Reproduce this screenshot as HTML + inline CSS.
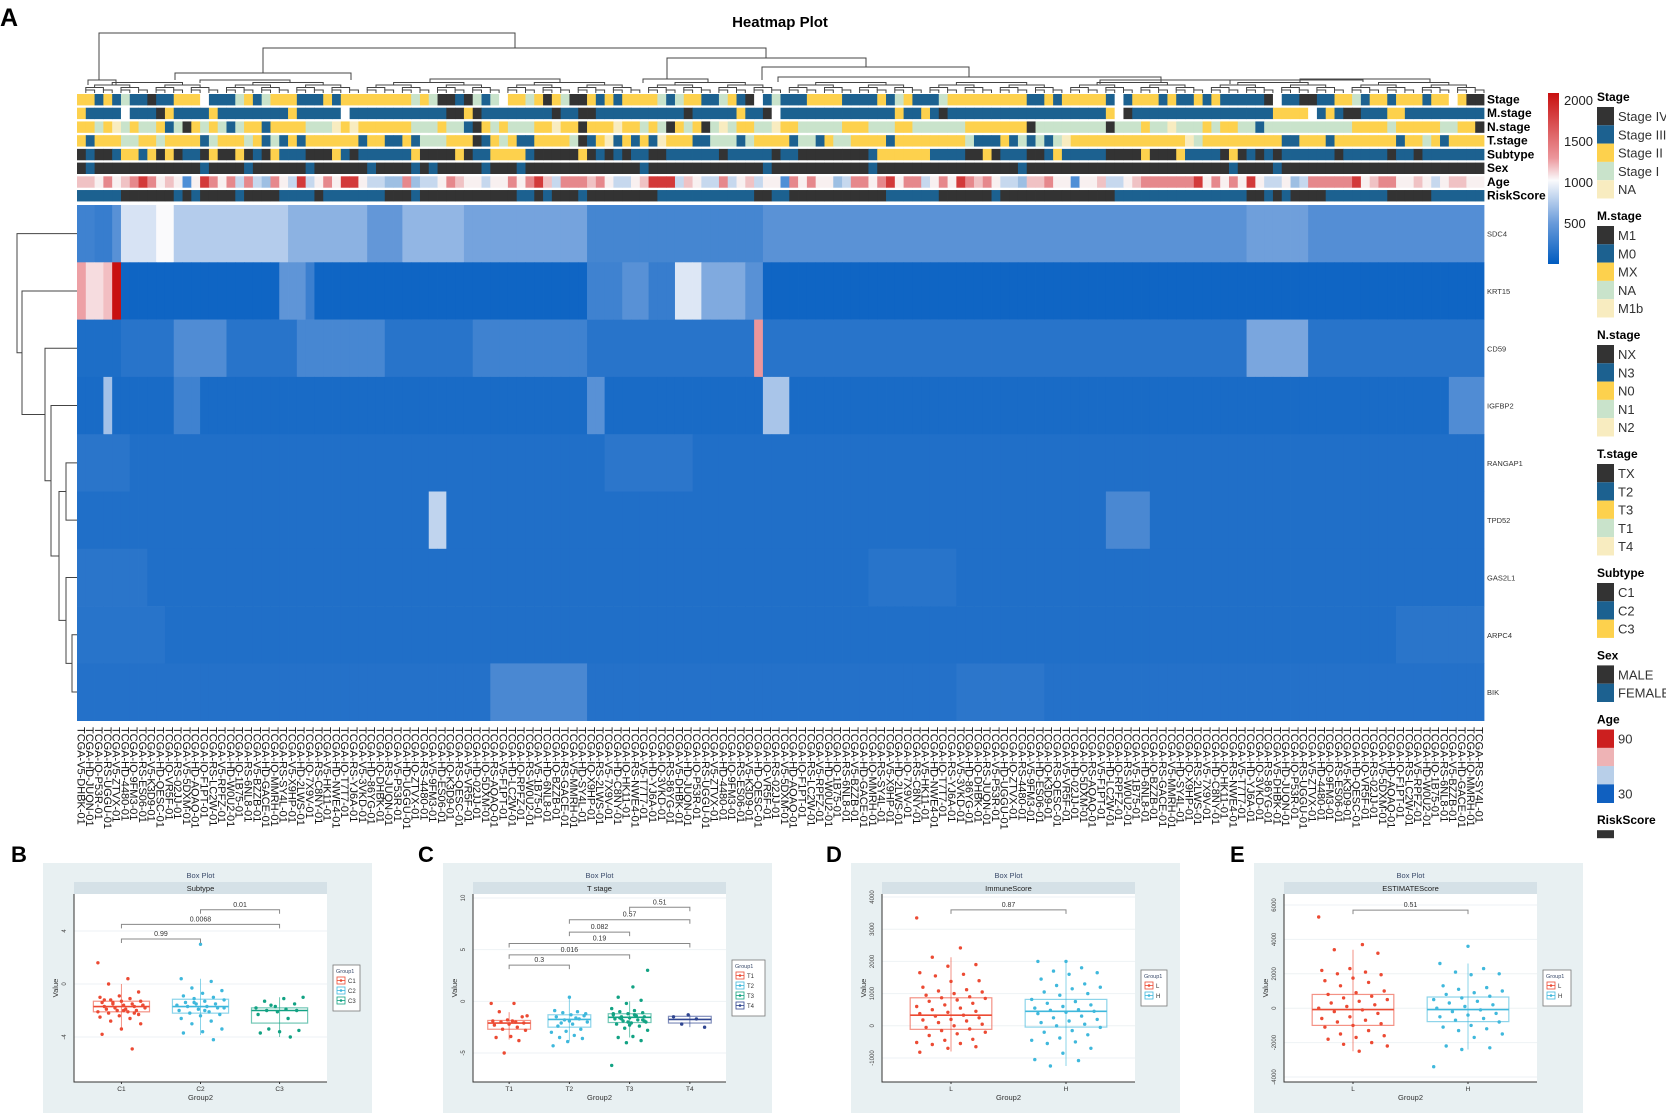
<!DOCTYPE html>
<html><head><meta charset="utf-8"><title>Heatmap Plot</title>
<style>
html,body{margin:0;padding:0;background:#fff;}
svg{display:block;font-family:"Liberation Sans",Arial,sans-serif;}
</style></head>
<body>
<svg id="fig" width="1666" height="1113" viewBox="0 0 1666 1113" xmlns="http://www.w3.org/2000/svg">
<rect x="0" y="0" width="1666" height="1113" fill="#ffffff"/>
<text x="0" y="26" font-size="25" font-weight="bold">A</text>
<text x="780" y="27" font-size="15" font-weight="bold" text-anchor="middle">Heatmap Plot</text>
<text x="11" y="862" font-size="22" font-weight="bold">B</text>
<text x="418" y="862" font-size="22" font-weight="bold">C</text>
<text x="826" y="862" font-size="22" font-weight="bold">D</text>
<text x="1230" y="862" font-size="22" font-weight="bold">E</text>
</svg>
<script>
// ---------------- HEATMAP DATA ----------------
const NCOL = 160;
const genes = ['SDC4','KRT15','CD59','IGFBP2','RANGAP1','TPD52','GAS2L1','ARPC4','BIK'];
const geneBase = [420, 70, 190, 120, 150, 150, 150, 150, 170];
// segments: [fromCol, toCol(exclusive), value]
const segSDC4 = [[0,2,300],[2,4,260],[4,5,420],[5,9,880],[9,11,1000],[11,24,760],[24,33,620],[33,37,470],[37,44,640],[44,58,540],[58,78,330],[78,133,430],[133,140,520],[140,160,400]];
const segKRT15 = [[0,1,1450],[1,3,1150],[3,4,1300],[4,5,2000],[23,26,450],[26,27,280],[58,62,300],[62,65,420],[65,68,260],[68,71,900],[71,76,580],[76,78,420]];
const segCD59 = [[0,5,140],[11,17,380],[25,35,340],[45,58,300],[77,78,1500],[133,140,560]];
const segIGFBP2 = [[3,4,700],[11,14,300],[58,60,420],[78,81,720],[156,160,380]];
const segRANGAP1 = [[0,6,200],[60,70,210]];
const segTPD52 = [[40,42,800],[117,122,350]];
const segGAS2L1 = [[0,8,200],[90,100,190]];
const segARPC4 = [[0,10,190],[150,160,200]];
const segBIK = [[47,58,350],[100,110,210]];
const geneSegs = [segSDC4, segKRT15, segCD59, segIGFBP2, segRANGAP1, segTPD52, segGAS2L1, segARPC4, segBIK];

// annotation tracks (K=dark, B=blue, Y=yellow, G=green, C=cream, W=blank)
const annNames = ['Stage','M.stage','N.stage','T.stage','Subtype','Sex','Age','RiskScore'];
const annStage = "YYBYBGBBKBBYYYWBBBGYBGYYYBBBYBYYYYYYYYGYGKKBKGBGWYYGYKYGKKY" + "BYBYYYYGBGYYBBGYBKWBGBBBYYYYBBBBYBGYBBBGYYYYYYYYYBBYBYYYYYBWBYYYBYBBYBYBBBBBKWBBKKBBYYGBYYBYYYBYYWYKKYBYYYYY";
const annM = "YBBBBWBBBKYBBBBYBBBBBBBBYBBBBBWBBBBBBBBBBBKKYKBBBBBBBBKBBKKB" + "BBBBBBBBBKBBBBBYBBKWBBBBBBBBBBBBBYBBYBKBBBBBBBBBBBBBBBBBBYWKBBBBBBBBBBBBBBBBYYYYWBYBKKBBBYYBBBBBBBBBBBBBKBBBBBBBB";
const annN = "YYGYCGYGGYBGKYGYGBGYYBYYYYGGGCYCYYYYYYGGGYGGBKYGYGGGYYCYYKY" + "YYCYYGYGKYGYKGCGYYGGCYYGGGGGYYYGGGYYGGGGGGYYYYYYYKGGGGGGGGKGGGYGGCGGGYGYYGGBGGGGGGGGGGYYYYGYYYYYGGYYKGKGGYCYKGY";
const annT = "YBYYYGGYYGYYYYBGYYYGYBGBYBYYYYYYBYYBBYBGGGYYYKBYGYBBYYYYGKBY" + "CBYBYBCYYYBBGGGBGYYYYBGGBYGGYYYYBYYYYYYYYGBBBYBGBGBGCYYYYYYYYYYYYYCGYYYYYYYYYBBYYYBYYYYYYYBYYGYBYYYYYYYYBBYY";
const annSub = "KBKKBYYBYKYKBBKYKKYKBKYBBBKKKYBKBBBBBBYKKKKYKBBYYYYBKKKKKYKB" + "KBKBBKKBBBBBBKBBBBBKBBKKKKKKKKBYYYYYYBBBBKKYKBBBKKBYBBBBBKKKKYKKKYBBBBKYKBKBKBBBBBBKBBBBBKBBKBBBBBB";
const annSex = "KBKKKKKKKKKKKKBKKKKBKKKKKKBKKKKKKBKKKKBKBKKKKKBKKKBKKKKKKKKK" + "KKKKBKKKKKKKKKKKKKBKKKKKKKKKKKBKKKKKKKKKKKKKKKKBKKKKKKKKKKKKKKKKKKKKKKKBKKKKBKKKKKKKKKKKKKKKKKKKKKKKBKB";
const annAge = "llwpwlprpwlwbwrpwpspsmpwsrswpwrrwssmmpmsswplwwswwpwprlsppplpw" + "sswlrrrslwsspswlswwbpwpwwmsppwprwppswpwrplpwssmllpwwbwwlsswlpppppprwpwpwrwsswmsppppprwlppwwlwswllwwwssmrpl";
const annRisk = "BBBBBKKKKKKBKBKKKKBKKKKBBBBKBBBBBBBKKKBKKKKKKKKKKKBBKBKKKBKK" + "KKKKKKBBBBBBBBBBBKKBBKKKKKKKKKKKBBBBBBKKKKKKBKKKKKKKKKKKKKBBBBBBBBBBBBBBBKKBKBKKKKBBBBBBBKKKKKBBBBBBBBBBBB";
const annTracks = [annStage, annM, annN, annT, annSub, annSex, annAge, annRisk];

// colour bar ticks
const cbTicks = [2000, 1500, 1000, 500];

// legends
const legTitles = ['Stage','M.stage','N.stage','T.stage','Subtype','Sex'];
const legStage = ['Stage IV','Stage III','Stage II','Stage I','NA'];
const legM = ['M1','M0','MX','NA','M1b'];
const legN = ['NX','N3','N0','N1','N2'];
const legT = ['TX','T2','T3','T1','T4'];
const legSub = ['C1','C2','C3'];
const legSex = ['MALE','FEMALE'];
const legItems = [legStage, legM, legN, legT, legSub, legSex];
const legColors = ['#333333','#1c6190','#fdd14d','#c9e3cb','#f8ecc0'];

// ---------------- BOX PLOT DATA ----------------
const bCats = ['C1','C2','C3'];
const bQ1 = [-2.1,-2.2,-2.95], bMed = [-1.7,-1.7,-2.0], bQ3 = [-1.3,-1.15,-1.8], bLo = [-3.4,-3.85,-4.0], bHi = [0.0,0.4,-1.0];
const bPtsC1 = [1.6,0.4,0.0,-0.6,-0.9,-1.0,-1.1,-1.2,-1.3,-1.3,-1.4,-1.5,-1.5,-1.6,-1.6,-1.7,-1.7,-1.8,-1.8,-1.9,-1.9,-2.0,-2.0,-2.1,-2.1,-2.2,-2.3,-2.4,-2.5,-2.6,-2.8,-3.0,-3.4,-3.8,-4.9,-1.4,-1.6,-2.0,-1.2,-2.2];
const bPtsC2 = [3.0,0.4,0.2,-0.3,-0.5,-0.7,-0.9,-1.0,-1.1,-1.2,-1.3,-1.4,-1.5,-1.5,-1.6,-1.7,-1.7,-1.8,-1.9,-2.0,-2.1,-2.2,-2.3,-2.4,-2.6,-2.8,-3.0,-3.4,-3.6,-3.7,-4.2,-1.4,-1.8,-2.0];
const bPtsC3 = [-1.0,-1.1,-1.3,-1.5,-1.7,-1.8,-1.9,-2.0,-2.0,-2.1,-2.3,-2.6,-3.4,-3.5,-3.6,-3.7,-4.0,-1.6];
const bPts = [bPtsC1,bPtsC2,bPtsC3];
const bTicks = [4,0,-4];
const bBrackets = [[0,1,'0.99',3.4],[0,2,'0.0068',4.5],[1,2,'0.01',5.6]];

const cCats = ['T1','T2','T3','T4'];
const cQ1 = [-2.7,-2.5,-2.05,-2.1], cMed = [-2.1,-1.75,-1.55,-1.75], cQ3 = [-1.85,-1.3,-1.2,-1.45], cLo = [-3.7,-3.85,-3.5,-2.5], cHi = [-1.05,0.4,0.0,-1.3];
const cPtsT1 = [-0.2,-0.2,-1.0,-1.5,-1.8,-1.9,-2.0,-2.0,-2.1,-2.2,-2.3,-2.5,-2.7,-2.8,-3.4,-3.5,-3.8,-5.0,-1.4,-1.9];
const cPtsT2 = [0.4,-0.9,-1.0,-1.1,-1.2,-1.3,-1.5,-1.7,-1.8,-2.0,-2.2,-2.4,-2.7,-2.9,-3.0,-3.3,-3.5,-3.6,-3.9,-4.3,-1.6,-2.1,-1.4,-1.9];
const cPtsT3 = [3.0,1.4,0.4,0.1,-0.2,-0.7,-0.9,-1.0,-1.1,-1.2,-1.3,-1.4,-1.5,-1.5,-1.6,-1.7,-1.8,-1.9,-2.0,-2.1,-2.2,-2.4,-2.6,-2.8,-3.4,-3.5,-3.8,-4.0,-6.2,-1.3,-1.6,-1.8,-2.0,-1.2,-1.4,-1.7,-1.9,-2.3];
const cPtsT4 = [-1.3,-1.5,-1.7,-2.2,-2.5];
const cPts = [cPtsT1,cPtsT2,cPtsT3,cPtsT4];
const cTicks = [10,5,0,-5];
const cBrackets = [[2,3,'0.51',9.1],[1,3,'0.57',7.9],[1,2,'0.082',6.7],[0,3,'0.19',5.6],[0,2,'0.016',4.5],[0,1,'0.3',3.5]];

const dCats = ['L','H'];
const dQ1 = [-110,-40], dMed = [330,450], dQ3 = [870,820], dLo = [-800,-1250], dHi = [2130,2000];
const dPtsL = [3350,2420,2130,1900,1850,1650,1600,1550,1400,1380,1200,1120,1080,1050,1000,950,900,870,850,800,760,700,650,600,550,500,450,420,380,330,300,250,200,180,150,100,50,0,-50,-100,-150,-200,-250,-300,-420,-450,-520,-550,-580,-650,-700,-820];
const dPtsH = [2000,2000,1800,1700,1650,1600,1450,1300,1250,1200,1150,1050,1000,950,820,750,700,650,600,550,500,480,450,420,380,300,250,200,150,100,50,0,-50,-150,-200,-280,-380,-450,-500,-550,-700,-850,-1050,-1080,-1250];
const dPts = [dPtsL,dPtsH];
const dTicks = [4000,3000,2000,1000,0,-1000];
const dBrackets = [[0,1,'0.87',3600]];

const eCats = ['L','H'];
const eQ1 = [-1000,-780], eMed = [-80,-80], eQ3 = [800,650], eLo = [-2500,-2400], eHi = [3400,2600];
const ePtsL = [5300,3700,3400,3200,2300,2200,2100,2000,1950,1750,1600,1500,1300,1000,900,800,700,600,500,400,300,200,100,0,-100,-200,-300,-500,-600,-700,-800,-900,-1000,-1100,-1300,-1500,-1600,-1700,-1800,-2000,-2100,-2200,-2500];
const ePtsH = [3600,2600,2300,2100,2000,1950,1300,1200,1100,1000,900,800,700,600,500,400,300,200,100,0,-100,-200,-300,-400,-500,-600,-700,-800,-1000,-1100,-1200,-1300,-1500,-1700,-2200,-2300,-2400,-3400];
const ePts = [ePtsL,ePtsH];
const eTicks = [6000,4000,2000,0,-2000,-4000];
const eBrackets = [[0,1,'0.51',5700]];

// ---------------- DRAWING ----------------
const NS = 'http://www.w3.org/2000/svg';
const svg = document.getElementById('fig');
function mk(tag, attrs, parent){
  const e = document.createElementNS(NS, tag);
  for (const k in attrs) e.setAttribute(k, attrs[k]);
  (parent || svg).appendChild(e);
  return e;
}
function txt(x,y,s,size,extra,parent){
  const t = mk('text', Object.assign({x:x,y:y,'font-size':size}, extra||{}), parent);
  t.textContent = s;
  return t;
}
// colour scale
const stops = [[0,[0,92,192]],[500,[105,155,218]],[1000,[250,250,252]],[1500,[236,150,155]],[2000,[200,16,16]]];
function heatColor(v){
  if (v <= stops[0][0]) return 'rgb('+stops[0][1].join(',')+')';
  for (let i=1;i<stops.length;i++){
    if (v <= stops[i][0]){
      const a = stops[i-1], b = stops[i], t = (v-a[0])/(b[0]-a[0]);
      const c = a[1].map((x,j)=>Math.round(x+(b[1][j]-x)*t));
      return 'rgb('+c.join(',')+')';
    }
  }
  return 'rgb('+stops[stops.length-1][1].join(',')+')';
}
const HX0 = 77, HX1 = 1484, CW = (HX1-HX0)/NCOL;
const HY0 = 205, RH = 57.3;
const colX = c => HX0 + c*CW;
const rowY = r => HY0 + r*RH;

// heatmap body
const gHeat = mk('g', {});


genes.forEach((g, r) => {
  const vals = new Array(NCOL).fill(geneBase[r]);
  geneSegs[r].forEach(s => { for (let c=s[0]; c<Math.min(s[1],NCOL); c++) vals[c] = s[2]; });
  vals.forEach((v, c) => {
    const cell = mk('rect', {x:colX(c).toFixed(2), y:rowY(r).toFixed(2), width:(CW+0.4).toFixed(2), height:(RH+0.3).toFixed(2), fill:heatColor(v)}, gHeat);
    
    
  });
  const lab = txt(1487, rowY(r)+RH/2+3, g, 7.5, {fill:'#333'});
  
  
});

// annotation tracks
const catColor = {K:'#333333', B:'#1c6190', Y:'#fdd14d', G:'#c9e3cb', C:'#f8ecc0', W:'#ffffff',
  r:'#d33a3a', p:'#e6888c', l:'#f0c2c4', w:'#f8f0f0', s:'#c6d8ee', m:'#9dbfe3', b:'#4f8fd6'};
const gAnn = mk('g', {});


annTracks.forEach((s, k) => {
  const y = 94 + k*13.72;
  for (let c=0; c<NCOL; c++){
    const ch = s[Math.min(c, s.length-1)];
    const cell = mk('rect', {x:colX(c).toFixed(2), y:y.toFixed(2), width:(CW+0.4).toFixed(2), height:11.4, fill:catColor[ch]||'#1c6190'}, gAnn);
    
    
  }
  const lab = txt(1487, y+9.5, annNames[k], 12, {'font-weight':'bold'});
  
  
});

// column dendrogram
const gDen = mk('g', {stroke:'#444', 'stroke-width':1, fill:'none'});


const leafY = 93;
const levelH = [90, 87.5, 85, 82.5];
for (let L=1; L<=4; L++){
  const size = 1<<L, half = size/2;
  for (let s=0; s+size<=NCOL; s+=size){
    const xl = colX(s + half/2) + (half===1?CW/2:0), xr = colX(s+half+half/2) + (half===1?CW/2:0);
    const yc = levelH[L-1], yb = L===1 ? leafY : levelH[L-2];
    const p = mk('path', {d:`M${xl.toFixed(1)},${yb} V${yc} H${xr.toFixed(1)} V${yb}`}, gDen);
    
    
  }
}
// major merges: [xLeft, xRight, y, dropLeftTo, dropRightTo]
const bigMerges = [[99,515,33,80,48],[88,116,80,85,85],[263,766,48,73,58],[175,351,73,80,80],[667,866,58,79,67],[643,708,79,83,83],[762,969,67,80,77],[778,1161,77,82,80],[1100,1230,80,84,84],[1300,1430,79,83,83],[1161,1363,80,82,82],[430,560,79,83,83],[200,290,80,83,83]];
bigMerges.forEach(m => {
  const p = mk('path', {d:`M${m[0]},${m[3]} V${m[2]} H${m[1]} V${m[4]}`}, gDen);
  
  
});

// row dendrogram
const gRD = mk('g', {stroke:'#444', 'stroke-width':1, fill:'none'});


const rc = r => rowY(r) + RH/2;
const rowNodes = [];
function rnode(x, y1, x1a, y2, x2a){ // vertical at x from y1 to y2, horizontals to children
  const p = mk('path', {d:`M${x1a},${y1} H${x} V${y2} H${x2a}`}, gRD);
  
  
}
const yH = (rc(7)+rc(8))/2;
rnode(72, rc(7), 77, rc(8), 77);
const yG = (rc(6)+yH)/2;
rnode(66, rc(6), 77, yH, 72);
const yE = (rc(4)+rc(5))/2;
rnode(66, rc(4), 77, rc(5), 77);
const yF = (yE+yG)/2;
rnode(59, yE, 66, yG, 66);
const yC = (rc(3)+yF)/2;
rnode(51, rc(3), 77, yF, 59);
const yB = (rc(2)+yC)/2;
rnode(45, rc(2), 77, yC, 51);
const yA = (rc(1)+yB)/2;
rnode(22, rc(1), 77, yB, 45);
rnode(17, rc(0), 77, yA, 22);

// column labels
const idA = ['V5','A5','CR','BA','CV','CQ','D6','HD','P3','QK','UF','CN','DQ','H7','IQ','T2','TN','KU','C9','F7','HL','RS','BB','MT','P5','4P','CX','UP'];
const idB = 'ABCDEFGHJKLMNPQRSTUVWXYZ0123456789';
const gCL = mk('g', {});


for (let c=0; c<NCOL; c++){
  const code = idA[(c*7)%idA.length] + '-' + idB[(c*5+3)%34] + idB[(c*11+7)%34] + idB[(c*13+1)%34] + idB[(c*3+9)%34];
  const x = colX(c) + CW/2 - 4;
  const t = txt(x, 727, 'TCGA-' + code + '-01', 11, {transform:`rotate(90 ${x.toFixed(1)} 727)`, fill:'#111'}, gCL);
  
  
}

// colour bar
const defs = mk('defs', {});
const lg = mk('linearGradient', {id:'cbgrad', x1:0, y1:0, x2:0, y2:1}, defs);
[[0,'#c81010'],[0.38,'#ec969b'],[0.51,'#fafafc'],[0.76,'#699bda'],[1,'#005cc0']].forEach(s => mk('stop', {offset:s[0], 'stop-color':s[1]}, lg));
const cb = mk('rect', {x:1548, y:93, width:11, height:171, fill:'url(#cbgrad)'});


const cbY = v => 264 - v*(171/2085);
cbTicks.forEach(v => {
  const t = txt(1564, cbY(v)+5, String(v), 13, {fill:'#222'});
  
  
});

// categorical legends
let ly = 97;
legTitles.forEach((ttl, i) => {
  const t = txt(1597, ly+4, ttl, 12, {'font-weight':'bold'});
  
  
  legItems[i].forEach((lab, j) => {
    const y = ly + 10 + j*18.3;
    const key = mk('rect', {x:1597, y:y.toFixed(1), width:17, height:18.3, fill:legColors[j]});
    
    
    const lt = txt(1618, y+14, lab, 13, {fill:'#333'});
    
    
  });
  ly += 10 + legItems[i].length*18.3 + 17.5;
});
// Age legend
const ageT = txt(1597, ly+4, 'Age', 12, {'font-weight':'bold'});


['#cc1f1f','#eeb3b5','#b8cfe9','#1060c0'].forEach((c, j) => {
  const k = mk('rect', {x:1597, y:(ly+10+j*18.3).toFixed(1), width:17, height:18.6, fill:c});
  
  
});
const a90 = txt(1618, ly+24, '90', 13, {fill:'#333'});


const a30 = txt(1618, ly+79, '30', 13, {fill:'#333'});


ly += 10 + 4*18.3 + 17.5;
const rsT = txt(1597, ly+4, 'RiskScore', 12, {'font-weight':'bold'});


const rsK = mk('rect', {x:1597, y:ly+10, width:17, height:8, fill:'#333333'});



// ---------------- BOX PANELS ----------------
function boxPanel(cfg){
  const g = mk('g', {});
  
  
  const px = cfg.px, py = 863, pw = 329, ph = 250;
  mk('rect', {x:px, y:py, width:pw, height:ph, fill:'#e8f0f2'}, g);
  const L = cfg.l, R = L + 253, T = 894, B = 1082;
  const tt = txt(L+126.5, 878, 'Box Plot', 7.5, {'text-anchor':'middle', fill:'#3a4a6a'}, g);
  
  
  mk('rect', {x:L, y:882, width:253, height:12, fill:'#d5e1e7'}, g);
  const st = txt(L+126.5, 891, cfg.strip, 7.5, {'text-anchor':'middle', fill:'#222'}, g);
  
  
  mk('rect', {x:L, y:T, width:253, height:B-T, fill:'#ffffff'}, g);
  const ys = v => cfg.y0 + (v - cfg.v0) * (cfg.y1 - cfg.y0) / (cfg.v1 - cfg.v0);
  cfg.ticks.forEach(v => {
    const y = ys(v);
    mk('line', {x1:L, x2:R, y1:y, y2:y, stroke:'#eef2f4', 'stroke-width':1}, g);
    const tl = txt(L-8, y, String(v), 6, {'text-anchor':'middle', transform:`rotate(-90 ${L-8} ${y})`, fill:'#444'}, g);
    
    
  });
  mk('path', {d:`M${L},${T} V${B} H${R}`, stroke:'#333', fill:'none', 'stroke-width':1}, g);
  const n = cfg.cats.length, step = 253/(n+0.2), bw = step*0.71;
  const xc = i => L + step*(0.6+i);
  cfg.cats.forEach((cat, i) => {
    const x = xc(i), col = cfg.colors[i];
    const wl = mk('line', {x1:x, x2:x, y1:ys(cfg.hi[i]), y2:ys(cfg.lo[i]), stroke:col, 'stroke-width':1, opacity:0.6}, g);
    
    
    const bx = mk('rect', {x:x-bw/2, y:ys(cfg.q3[i]), width:bw, height:ys(cfg.q1[i])-ys(cfg.q3[i]), fill:'none', stroke:col, 'stroke-width':1.2, opacity:0.6}, g);
    
    
    const md = mk('line', {x1:x-bw/2, x2:x+bw/2, y1:ys(cfg.med[i]), y2:ys(cfg.med[i]), stroke:col, 'stroke-width':1.6}, g);
    
    
    cfg.pts[i].forEach((v, k) => {
      const jit = (((k*37 + i*11) % 23) - 11) / 11 * bw * 0.42;
      const pt = mk('circle', {cx:(x+jit).toFixed(1), cy:ys(v).toFixed(1), r:1.7, fill:col}, g);
      
      
    });
    mk('line', {x1:x, x2:x, y1:B, y2:B+2, stroke:'#333'}, g);
    const xl = txt(x, B+9, cat, 6.5, {'text-anchor':'middle', fill:'#333'}, g);
    
    
  });
  cfg.br.forEach(b => {
    const y = ys(b[3]), x1 = xc(b[0]), x2 = xc(b[1]);
    const p = mk('path', {d:`M${x1},${y+4} V${y} H${x2} V${y+4}`, stroke:'#888', fill:'none', 'stroke-width':1}, g);
    
    
    const lt = txt((x1+x2)/2, y-3, b[2], 7, {'text-anchor':'middle', fill:'#333'}, g);
    
    
  });
  const xt = txt(L+126.5, 1100, 'Group2', 7.5, {'text-anchor':'middle', fill:'#333'}, g);
  
  
  const yt = txt(L-16, 988, 'Value', 7.5, {'text-anchor':'middle', transform:`rotate(-90 ${L-16} 988)`, fill:'#333'}, g);
  
  
  // legend
  const lh = 16 + n*10, ly0 = 988 - lh/2, lx = R + 6;
  mk('rect', {x:lx, y:ly0, width:cfg.lw, height:lh, fill:'#ffffff', stroke:'#777', 'stroke-width':0.8}, g);
  const lt = txt(lx+3, ly0+8, 'Group1', 5.5, {fill:'#3a4a6a'}, g);
  
  
  cfg.cats.forEach((cat, i) => {
    const y = ly0 + 12 + i*10;
    mk('rect', {x:lx+4, y:y, width:8, height:7, fill:'none', stroke:cfg.colors[i], 'stroke-width':0.8}, g);
    mk('line', {x1:lx+4, x2:lx+12, y1:y+3.5, y2:y+3.5, stroke:cfg.colors[i], 'stroke-width':0.8}, g);
    mk('circle', {cx:lx+8, cy:y+3.5, r:1.3, fill:cfg.colors[i]}, g);
    const et = txt(lx+15, y+6, cat, 6, {fill:'#333'}, g);
    
    
  });
}
const RED = '#ec4a33', CYAN = '#3fb8dc', TEAL = '#12a283', NAVY = '#2f4590';
boxPanel({name:'box-plot-subtype', px:43, l:74, strip:'Subtype', cats:bCats, q1:bQ1, med:bMed, q3:bQ3, lo:bLo, hi:bHi, pts:bPts, ticks:bTicks, br:bBrackets, v0:4, y0:931, v1:-4, y1:1037, colors:[RED,CYAN,TEAL], lw:27});
boxPanel({name:'box-plot-t-stage', px:443, l:473, strip:'T stage', cats:cCats, q1:cQ1, med:cMed, q3:cQ3, lo:cLo, hi:cHi, pts:cPts, ticks:cTicks, br:cBrackets, v0:10, y0:898, v1:-5, y1:1053, colors:[RED,CYAN,TEAL,NAVY], lw:33});
boxPanel({name:'box-plot-immunescore', px:851, l:882, strip:'ImmuneScore', cats:dCats, q1:dQ1, med:dMed, q3:dQ3, lo:dLo, hi:dHi, pts:dPts, ticks:dTicks, br:dBrackets, v0:4000, y0:897, v1:-1000, y1:1058, colors:[RED,CYAN], lw:26});
boxPanel({name:'box-plot-estimatescore', px:1254, l:1284, strip:'ESTIMATEScore', cats:eCats, q1:eQ1, med:eMed, q3:eQ3, lo:eLo, hi:eHi, pts:ePts, ticks:eTicks, br:eBrackets, v0:6000, y0:905, v1:-4000, y1:1077, colors:[RED,CYAN], lw:28});
</script>
</body></html>
